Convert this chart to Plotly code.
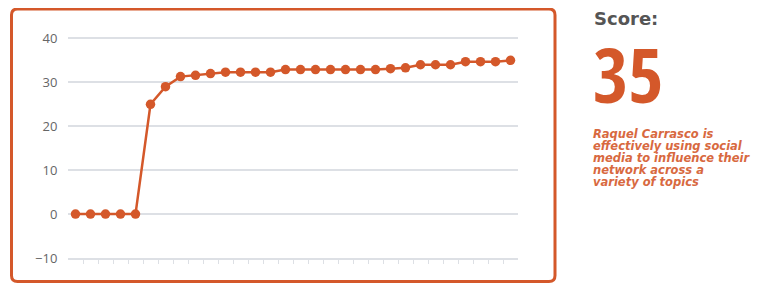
import plotly.graph_objects as go

# ---- data ----
periods = list(range(30))
scores = [0, 0, 0, 0, 0, 25, 29, 31.3, 31.6, 32, 32.3, 32.3, 32.3, 32.3,
          32.9, 32.9, 32.9, 32.9, 32.9, 32.9, 32.9, 33.1, 33.3, 34, 34, 34,
          34.7, 34.7, 34.7, 35]
y_ticks = [-10, 0, 10, 20, 30, 40]
score_title = "Score:"
score_value = "35"
description_lines = ["Raquel Carrasco is", "effectively using social",
                     "media to influence their", "network across a",
                     "variety of topics"]

ORANGE = "#d4582a"
GRID = "#dde0e5"
OFF = 8  # page body margin
W, H = 761 - OFF, 285 - OFF
L, R, T, B = 60, 243, 26, 27
PW, PH = W - L - R, H - T - B

def px(x):
    return (x - OFF - L) / PW

def py(y):
    return (H - B - (y - OFF)) / PH

fig = go.Figure()
fig.add_trace(go.Scatter(
    x=periods, y=scores, mode="lines+markers",
    line=dict(color=ORANGE, width=2.5),
    marker=dict(color=ORANGE, size=9.5),
    hoverinfo="skip", showlegend=False, cliponaxis=False))

x0, x1, y0, y1, r = 11.5, 555, 9, 281.5, 6
path = (f"M {px(x0+r)},{py(y0)} L {px(x1-r)},{py(y0)} Q {px(x1)},{py(y0)} {px(x1)},{py(y0+r)} "
        f"L {px(x1)},{py(y1-r)} Q {px(x1)},{py(y1)} {px(x1-r)},{py(y1)} "
        f"L {px(x0+r)},{py(y1)} Q {px(x0)},{py(y1)} {px(x0)},{py(y1-r)} "
        f"L {px(x0)},{py(y0+r)} Q {px(x0)},{py(y0)} {px(x0+r)},{py(y0)} Z")
fig.add_shape(type="path", path=path, xref="paper", yref="paper",
              line=dict(color=ORANGE, width=3), layer="above")

fig.add_annotation(text=f"<b>{score_title}</b>", xref="paper", yref="paper",
                   x=px(592), y=py(19), xanchor="left", yanchor="middle",
                   showarrow=False,
                   font=dict(family="DejaVu Sans", size=18, color="#555555"))
fig.add_annotation(text=f"<b>{score_value}</b>", xref="paper", yref="paper",
                   x=px(591), y=py(73), xanchor="left", yanchor="middle",
                   showarrow=False,
                   font=dict(family="Open Sans Condensed", size=76, color=ORANGE))
for i, line in enumerate(description_lines):
    fig.add_annotation(text=f"<b><i>{line}</i></b>", xref="paper", yref="paper",
                       x=px(591), y=py(133.5 + 12.2 * i), xanchor="left", yanchor="middle",
                       showarrow=False,
                       font=dict(family="DejaVu Sans", size=11.5, color="#d8693f"))

fig.update_layout(
    width=W, height=H, margin=dict(l=L, r=R, t=T, b=B, pad=0),
    paper_bgcolor="white", plot_bgcolor="white",
    xaxis=dict(range=[-0.5, 29.5], tickvals=[p + 0.5 for p in periods[:-1]],
               showticklabels=False, ticks="outside", ticklen=4, tickcolor=GRID,
               tickwidth=1, showgrid=False, zeroline=False, showline=True,
               linecolor=GRID, linewidth=1.5, fixedrange=True),
    yaxis=dict(range=[-10, 41], tickvals=y_ticks, showgrid=True, gridcolor=GRID,
               gridwidth=1.5, zeroline=False, showline=False,
               ticks="outside", ticklen=7, tickcolor="rgba(0,0,0,0)",
               tickfont=dict(family="Open Sans, Arial", size=13, color="#666666"),
               fixedrange=True),
)
fig.write_html("out.html")
